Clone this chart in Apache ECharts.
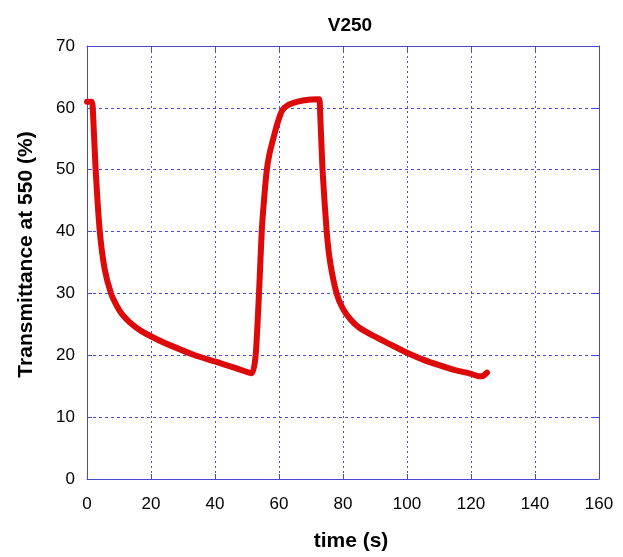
<!DOCTYPE html>
<html>
<head>
<meta charset="utf-8">
<script src="https://cdn.jsdelivr.net/npm/echarts@6/dist/echarts.min.js"></script>
<style>
  html, body { margin: 0; padding: 0; background: #fff; }
  #chart { width: 623px; height: 557px; }
</style>
</head>
<body>
<div id="chart"></div>
<script>
// time (s) and transmittance (%)
const timeS = [0, 1.5, 1.8, 2.7, 4, 5.5, 7.5, 9.3, 11, 13.4, 17, 21.8, 27, 33.7, 40, 46, 51.5,
  52.7, 53.75, 54.6, 55.3, 56.2, 57, 58.2, 59.5, 61, 63, 65, 67.5, 70, 72.5,
  72.8, 73.6, 74.9, 76, 78, 80, 82.5, 85, 90, 95, 100, 105, 110, 115, 120, 122.5, 123.5, 125];
const transmittance = [61, 61, 60, 50, 40, 34, 30, 28, 26.6, 25.3, 23.9, 22.6, 21.4, 20, 19, 18, 17.1,
  20, 30, 40, 45, 50, 52.5, 55, 57.5, 59.6, 60.5, 60.9, 61.2, 61.35, 61.4,
  60, 50, 40, 35, 30, 27.5, 25.7, 24.5, 23, 21.7, 20.4, 19.3, 18.4, 17.6, 17, 16.6, 16.6, 17.2];

const axisBlue = '#4848d0';
const gridBlue = '#4a4ae6';
const font = 'Liberation Sans';

const chart = echarts.init(document.getElementById('chart'));

const tickStyle = { show: true, inside: true, length: 5, lineStyle: { color: axisBlue } };
const lineStyle = { show: true, onZero: false, lineStyle: { color: axisBlue, width: 1 } };

chart.setOption({
  animation: false,
  title: {
    text: 'V250',
    left: 345, top: 11, textAlign: 'center',
    textStyle: { fontFamily: font, fontSize: 19, fontWeight: 'bold', color: '#000' }
  },
  grid: { left: 87, right: 24, top: 46, bottom: 77 },
  xAxis: [{
    type: 'value', min: 0, max: 160, interval: 20, position: 'bottom',
    name: 'time (s)', nameLocation: 'middle', nameGap: 52,
    nameTextStyle: { fontFamily: font, fontSize: 21, fontWeight: 'bold', color: '#000', padding: [0, 0, 0, 16] },
    axisLine: lineStyle,
    axisTick: tickStyle,
    axisLabel: { margin: 17, fontFamily: font, fontSize: 17, color: '#000' },
    splitLine: { show: true, lineStyle: { color: gridBlue, type: [2, 3], width: 1 } }
  }, {
    type: 'value', min: 0, max: 160, interval: 20, position: 'top',
    axisLine: lineStyle, axisTick: tickStyle,
    axisLabel: { show: false }, splitLine: { show: false }
  }],
  yAxis: [{
    type: 'value', min: 0, max: 70, interval: 10, position: 'left',
    name: 'Transmittance at 550 (%)', nameLocation: 'middle', nameGap: 50,
    nameTextStyle: { fontFamily: font, fontSize: 21, fontWeight: 'bold', color: '#000', padding: [0, 0, 0, 16] },
    axisLine: lineStyle,
    axisTick: tickStyle,
    axisLabel: { margin: 12, fontFamily: font, fontSize: 17, color: '#000' },
    splitLine: { show: true, lineStyle: { color: gridBlue, type: [3, 3], width: 1 } }
  }, {
    type: 'value', min: 0, max: 70, interval: 10, position: 'right',
    axisLine: lineStyle, axisTick: tickStyle,
    axisLabel: { show: false }, splitLine: { show: false }
  }],
  series: [{
    type: 'line',
    xAxisIndex: 0, yAxisIndex: 0,
    data: timeS.map((t, i) => [t, transmittance[i]]),
    showSymbol: false,
    smooth: 0.2,
    lineStyle: { color: '#dd0a0a', width: 6, join: 'round', cap: 'round' }
  }]
});
</script>
</body>
</html>
